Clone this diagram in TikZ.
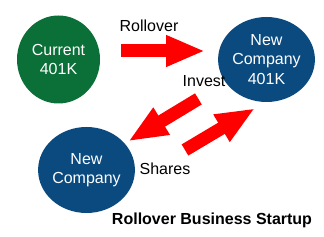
\documentclass[tikz,border=0pt]{standalone}
\usepackage{fontspec}
\setmainfont{Liberation Sans}
\usetikzlibrary{shapes.geometric,arrows.meta}
\definecolor{fundgreen}{RGB}{10,112,56}
\definecolor{fundblue}{RGB}{10,74,126}

\begin{document}
\begin{tikzpicture}[
        x=1pt, y=-1pt,
        font=\fontsize{16}{19.5}\selectfont,
        pot/.style={ellipse, inner sep=0pt, text=white, align=center},
        flow/.style={draw=red, line width=13pt, -{Triangle[width=29pt,length=39pt]}},
        tag/.style={anchor=base},
        ]
        \useasboundingbox (0,0) rectangle (324,237);

        % Funds
        \node[pot, fill=fundgreen, minimum width=83pt, minimum height=88pt] (cur) at (58.5,59.5) {Current\\401K};
        \node[pot, fill=fundblue, minimum width=87pt, minimum height=85pt] (plan) at (266.5,59.5) {New\\Company\\401K};
        \node[pot, fill=fundblue, minimum width=83pt, minimum height=86pt] (corp) at (86.5,170) {New\\Company};

        % Arrow ends
        \coordinate (roll-a) at (121,51);
        \coordinate (roll-b) at (205,51);
        \coordinate (inv-a) at (198.4,98.9);
        \coordinate (inv-b) at (128.3,141.3);
        \coordinate (sh-a) at (185,150);
        \coordinate (sh-b) at (255,108.3);

        % Flows
        \draw[flow] (roll-a) -- (roll-b);
        \draw[flow] (inv-a) -- (inv-b);
        \draw[flow] (sh-a) -- (sh-b);

        % Labels
        \node[tag] (roll) at (149,32) {Rollover};
        \node[tag] (inv) at (204,87) {Invest};
        \node[tag] (sh) at (165,175) {Shares};
        \node[tag, font=\fontsize{16}{19.5}\selectfont\bfseries] (title) at (212,225) {Rollover Business Startup};

    \end{tikzpicture}
\end{document}
